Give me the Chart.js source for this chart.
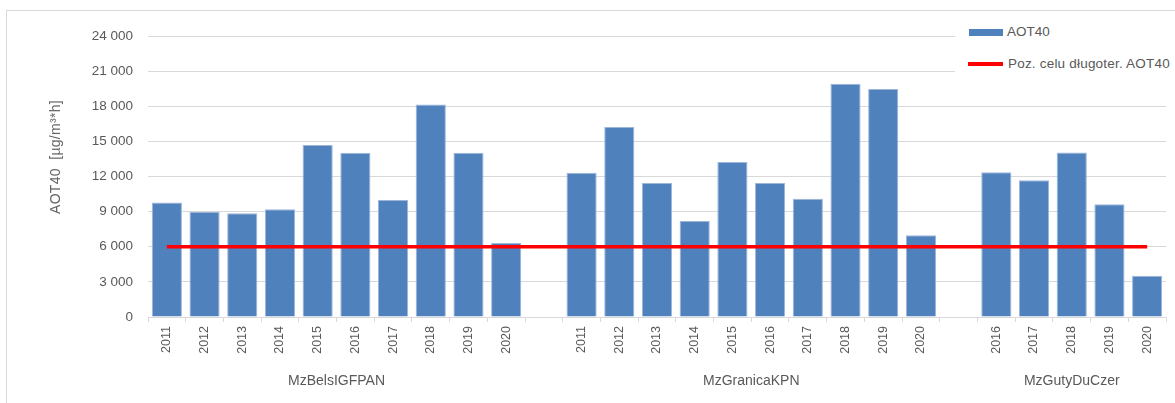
<!DOCTYPE html>
<html>
<head>
<meta charset="utf-8">
<script src="https://cdn.jsdelivr.net/npm/chart.js@4"></script>
<style>
  html, body { margin: 0; padding: 0; background: #fff; overflow: hidden; }
  #wrap { position: relative; width: 1175px; height: 403px; overflow: hidden; font-family: "Liberation Sans", Arial, sans-serif; color: #595959; }
  #frame { position: absolute; left: 6px; top: 10px; width: 1200px; height: 420px; border: 1px solid #d9d9d9; box-sizing: border-box; }
  canvas { position: absolute; left: 0; top: 0; }
  #ytitle { position: absolute; left: 55px; top: 157px; transform: translate(-50%, -50%) rotate(-90deg); white-space: nowrap; font-size: 14px; font-weight: normal; color: #666666; letter-spacing: 0.3px; }
  #legend { position: absolute; left: 955px; top: 18px; width: 220px; height: 62px; background: #fff; font-size: 13.5px; }
  .lg { position: absolute; }
  .lt { position: absolute; white-space: nowrap; line-height: 16px; }
</style>
</head>
<body>
<div id="wrap">
  <div id="frame"></div>
  <canvas id="c" width="1175" height="403"></canvas>
  <div id="ytitle">AOT40&nbsp; [µg/m³*h]</div>
  <div id="legend">
    <div class="lg" style="left:14px;top:11px;width:34px;height:7px;background:#4F81BD;"></div>
    <div class="lt" style="left:52px;top:6px;">AOT40</div>
    <div class="lg" style="left:13px;top:44px;width:35px;height:4px;background:#FF0000;"></div>
    <div class="lt" style="left:53px;top:38px;letter-spacing:0.2px;">Poz. celu długoter. AOT40</div>
  </div>
</div>
<script>
// ---- data ----
const groupNames = ['MzBelsIGFPAN', 'MzGranicaKPN', 'MzGutyDuCzer'];
const years1 = ['2011','2012','2013','2014','2015','2016','2017','2018','2019','2020'];
const values1 = [9770, 8980, 8870, 9200, 14680, 14020, 10000, 18150, 14020, 6320];
const years2 = ['2011','2012','2013','2014','2015','2016','2017','2018','2019','2020'];
const values2 = [12320, 16230, 11450, 8200, 13240, 11450, 10100, 19920, 19470, 6980];
const years3 = ['2016','2017','2018','2019','2020'];
const values3 = [12370, 11690, 14050, 9640, 3530];
const targetValue = 6000;
const yTicks = [0, 3000, 6000, 9000, 12000, 15000, 18000, 21000, 24000];

// build combined category list with a gap slot between groups
const groups = [[years1, values1], [years2, values2], [years3, values3]];
const labels = [];
const barData = [];
const groupCenters = [];
groups.forEach(([yrs, vals], gi) => {
  if (gi > 0) { labels.push(''); barData.push(null); }
  const start = labels.length;
  yrs.forEach((y, i) => { labels.push(y); barData.push(vals[i]); });
  groupCenters.push((start + labels.length - 1) / 2);
});
const lineData = labels.map(() => targetValue);

const textColor = '#595959';
const fontFam = '"Liberation Sans", Arial, sans-serif';

new Chart(document.getElementById('c'), {
  data: {
    labels: labels,
    datasets: [
      {
        type: 'line', label: 'Poz. celu długoter. AOT40', data: lineData,
        borderColor: '#FF0000', borderWidth: 3.5, pointRadius: 0, fill: false, order: 0, xAxisID: 'x'
      },
      {
        type: 'bar', label: 'AOT40', data: barData,
        backgroundColor: '#4F81BD', borderColor: '#9db6da', borderWidth: 1,
        barPercentage: 0.8, categoryPercentage: 1.0, order: 1, xAxisID: 'x'
      }
    ]
  },
  options: {
    responsive: false,
    animation: false,
    devicePixelRatio: 1,
    layout: { padding: { top: 36, right: 9, bottom: 0, left: 0 } },
    plugins: { legend: { display: false }, tooltip: { enabled: false } },
    scales: {
      x: {
        type: 'category', position: 'bottom', weight: 0, offset: true,
        grid: { offset: true, drawOnChartArea: false, drawTicks: true, tickLength: 5, color: '#d9d9d9' },
        border: { display: true, color: '#d9d9d9' },
        ticks: { autoSkip: false, maxRotation: 90, minRotation: 90, padding: 4, color: textColor, font: { family: fontFam, size: 12.5 } },
        afterFit: (s) => { s.height = 45; }
      },
      x2: {
        type: 'linear', position: 'bottom', weight: 1,
        min: -0.5, max: labels.length - 0.5,
        grid: { display: false, drawTicks: false },
        border: { display: false },
        afterBuildTicks: (s) => { s.ticks = groupCenters.map(v => ({ value: v })); },
        ticks: {
          padding: 11, color: textColor, font: { family: fontFam, size: 14 },
          autoSkip: false, maxRotation: 0, minRotation: 0,
          callback: (v) => { const i = groupCenters.indexOf(v); return i >= 0 ? groupNames[i] : ''; }
        },
        afterFit: (s) => { s.height = 41; }
      },
      y: {
        min: 0, max: 24000,
        afterBuildTicks: (s) => { s.ticks = yTicks.map(v => ({ value: v })); },
        grid: { color: '#d9d9d9', drawTicks: false, lineWidth: 1 },
        border: { display: false },
        ticks: {
          padding: 15, color: textColor, font: { family: fontFam, size: 13.5 },
          callback: (v) => String(v).replace(/\B(?=(\d{3})+(?!\d))/g, ' ')
        },
        afterFit: (s) => { s.width = 148; }
      }
    }
  }
});
</script>
</body>
</html>
